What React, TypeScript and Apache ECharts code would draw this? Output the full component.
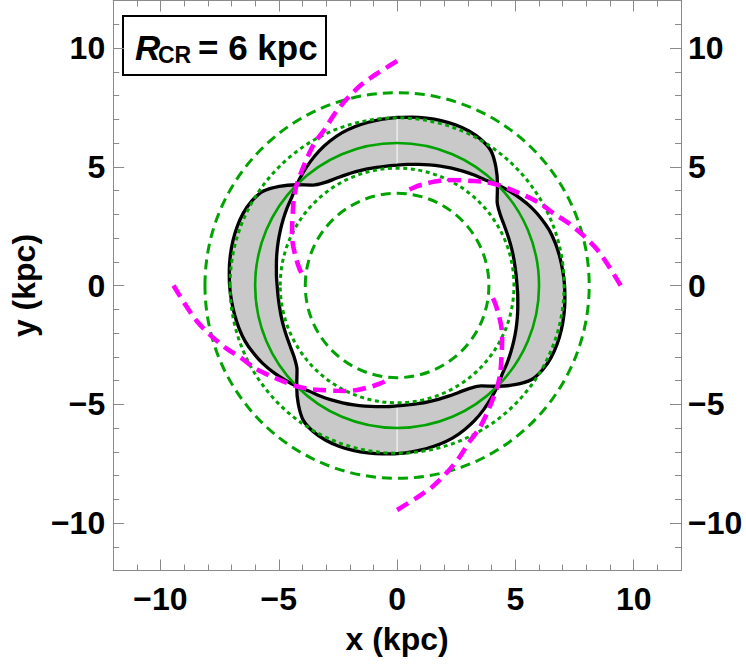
import React, { useEffect, useRef } from "react";
import * as echarts from "echarts";

// Axis range (kpc) and labelled ticks
const axisMin = -12;
const axisMax = 12;
const majorTicks = [-10, -5, 0, 5, 10];

// Resonance circles (kpc)
const corotationRadius = 6;
const dashedRadii = [3.88, 8.12];
const dottedRadii = [4.94, 7.06];

// Gray trapping region: four lobes, each running from one pinch angle
// (deg) to the next; radii are given against the angle past the pinch.
const lobePinchAngles = [45, 135, 225, 315];
const lobePhi = [0, 5, 10, 15, 20, 25, 30, 35, 40, 45, 50, 55, 60, 65, 70, 75, 80, 85, 90];
const lobeOuterR = [6.0, 6.5, 6.92, 7.1, 7.18, 7.2, 7.19, 7.16, 7.12, 7.08, 7.03, 6.98, 6.92, 6.84, 6.71, 6.56, 6.38, 6.19, 6.0];
const lobeInnerR = [6.0, 5.8, 5.68, 5.56, 5.45, 5.35, 5.26, 5.18, 5.12, 5.07, 5.05, 5.05, 5.07, 5.1, 5.14, 5.2, 5.3, 5.52, 6.0];

// Spiral arms (magenta): angle offset from the arm's pinch (deg) and radius
const armPinchAngles = [45, 135, 225, 315];
const armOffset = [-45, -40, -35, -30, -25, -20, -15, -10, -5, 0, 5, 10, 15, 20, 25, 30, 35, 41];
const armR = [9.45, 9.0, 8.6, 8.15, 7.7, 7.25, 6.95, 6.6, 6.28, 6.0, 5.7, 5.38, 5.12, 4.9, 4.66, 4.42, 4.2, 3.93];

const fontFamily = '"Liberation Sans", Arial, Helvetica, sans-serif';
const frameColor = "#8a8a8a";
const green = "#00a300";

const toXY = (deg: number, r: number): number[] => {
  const a = (deg * Math.PI) / 180;
  return [r * Math.cos(a), r * Math.sin(a)];
};

const fmt = (v: number) => (v < 0 ? "\u2212" + Math.abs(v) : String(v));

const lobeEdge = (pinch: number, radii: number[]) =>
  lobePhi.map((phi, i) => toXY(pinch + phi, radii[i]));

// The black boundary is two closed curves that swap between outer and
// inner edges at every pinch.
const boundaryCurve = (startWithOuter: boolean) => {
  const pts: number[][] = [];
  lobePinchAngles.forEach((p, k) => {
    const useOuter = (k % 2 === 0) === startWithOuter;
    const radii = useOuter ? lobeOuterR : lobeInnerR;
    for (let i = 0; i < lobePhi.length - 1; i++) pts.push(toXY(p + lobePhi[i], radii[i]));
  });
  // start in the middle of a lobe so the seam of the closed curve is smooth
  const mid = Math.floor(lobePhi.length / 2);
  const rotated = pts.slice(mid).concat(pts.slice(0, mid));
  rotated.push(rotated[0]);
  return rotated;
};

const armPoints = (pinch: number) => armOffset.map((o, i) => toXY(pinch + o, armR[i]));

const labelText = { fontSize: 32, fontWeight: "bold" as const, color: "#000", fontFamily };

const majorAxis = (position: string, showLabel: boolean, margin: number, extra: any = {}) => ({
  type: "value",
  position,
  min: axisMin,
  max: axisMax,
  axisLine: { show: true, onZero: false, lineStyle: { color: frameColor, width: 1 } },
  axisTick: { show: true, inside: true, length: 11, customValues: majorTicks, lineStyle: { color: frameColor, width: 1 } },
  axisLabel: { show: showLabel, customValues: majorTicks, formatter: fmt, margin, ...labelText },
  splitLine: { show: false },
  ...extra,
});

const minorAxis = (position: string, step: number) => ({
  type: "value",
  position,
  min: axisMin,
  max: axisMax,
  interval: step,
  axisLine: { show: false, onZero: false },
  axisTick: { show: true, inside: true, length: 6, lineStyle: { color: frameColor, width: 1 } },
  axisLabel: { show: false },
  splitLine: { show: false },
});

const App: React.FC = () => {
  const ref = useRef<HTMLDivElement>(null);

  useEffect(() => {
    document.body.style.margin = "0";
    if (!ref.current) return;
    const chart = echarts.init(ref.current, undefined, { renderer: "svg" });

    const circleData = [
      [corotationRadius, 0],
      ...dashedRadii.map((r) => [r, 1]),
      ...dottedRadii.map((r) => [r, 2]),
    ];

    const seamIndex = lobePhi.indexOf(45);
    const seamTop = [toXY(90, lobeInnerR[seamIndex]), toXY(90, lobeOuterR[seamIndex])];
    const seamBottom = [toXY(270, lobeInnerR[seamIndex]), toXY(270, lobeOuterR[seamIndex])];

    const option: any = {
      animation: false,
      backgroundColor: "#fff",
      grid: { left: 110, top: 0.5, width: 571, height: 570, containLabel: false },
      xAxis: [
        majorAxis("bottom", true, 12, {
          name: "x (kpc)",
          nameLocation: "middle",
          nameGap: 52,
          nameTextStyle: { fontSize: 32, fontWeight: "bold", color: "#000", fontFamily },
        }),
        minorAxis("bottom", 1),
        majorAxis("top", false, 8),
        minorAxis("top", 1),
      ],
      yAxis: [
        majorAxis("left", true, 8, {
          name: "y (kpc)",
          nameLocation: "middle",
          nameGap: 62,
          nameTextStyle: { fontSize: 32, fontWeight: "bold", color: "#000", fontFamily },
        }),
        minorAxis("left", 1),
        majorAxis("right", true, 7),
        minorAxis("right", 1),
      ],
      series: [
        {
          type: "custom",
          name: "lobes",
          coordinateSystem: "cartesian2d",
          xAxisIndex: 0,
          yAxisIndex: 0,
          silent: true,
          z: 1,
          data: lobePinchAngles.map((a) => [a, 0]),
          renderItem: (params: any, api: any) => {
            const p = lobePinchAngles[params.dataIndex];
            const outer = lobeEdge(p, lobeOuterR);
            const inner = lobeEdge(p, lobeInnerR).reverse();
            const pts = outer.concat(inner).map((pt) => api.coord(pt));
            return { type: "polygon", shape: { points: pts }, style: { fill: "#c9c9c9", stroke: "none" } };
          },
        },
        ...[seamTop, seamBottom].map((seg) => ({
          type: "line",
          name: "seam",
          data: seg,
          showSymbol: false,
          silent: true,
          z: 2,
          lineStyle: { color: "#fff", width: 1 },
        })),
        ...[true, false].map((startOuter) => ({
          type: "line",
          name: "boundary",
          data: boundaryCurve(startOuter),
          showSymbol: false,
          smooth: 0.3,
          silent: true,
          z: 3,
          lineStyle: { color: "#000", width: 3.3 },
        })),
        {
          type: "custom",
          name: "resonances",
          coordinateSystem: "cartesian2d",
          xAxisIndex: 0,
          yAxisIndex: 0,
          silent: true,
          z: 4,
          data: circleData,
          renderItem: (params: any, api: any) => {
            const r = api.value(0);
            const kind = api.value(1);
            const c = api.coord([0, 0]);
            const e = api.coord([r, r]);
            const style: any = { fill: "none", stroke: green, lineWidth: 3 };
            if (kind === 0) style.lineWidth = 2.6;
            if (kind === 1) style.lineDash = [10, 6];
            if (kind === 2) style.lineDash = [4, 3.6];
            return {
              type: "ellipse",
              shape: { cx: c[0], cy: c[1], rx: e[0] - c[0], ry: c[1] - e[1] },
              style,
            };
          },
        },
        ...armPinchAngles.map((p) => ({
          type: "line",
          name: "arm",
          data: armPoints(p),
          showSymbol: false,
          smooth: 0.3,
          silent: true,
          z: 5,
          lineStyle: { color: "#ff00ff", width: 4.6, type: [13, 7] },
        })),
      ],
      graphic: [
        {
          type: "group",
          z: 100,
          children: [
            {
              type: "rect",
              shape: { x: 123, y: 16, width: 203, height: 59 },
              style: { fill: "#fff", stroke: "#000", lineWidth: 2 },
            },
            {
              type: "text",
              x: 135,
              y: 47,
              style: { text: "R", fill: "#000", fontSize: 35, fontStyle: "italic", fontWeight: "bold", fontFamily, verticalAlign: "middle" },
            },
            {
              type: "text",
              x: 158,
              y: 55,
              style: { text: "CR", fill: "#000", fontSize: 23, fontWeight: "bold", fontFamily, verticalAlign: "middle" },
            },
            {
              type: "text",
              x: 198,
              y: 47,
              style: { text: "= 6 kpc", fill: "#000", fontSize: 35, fontWeight: "bold", fontFamily, verticalAlign: "middle" },
            },
          ],
        },
      ],
    };

    chart.setOption(option);
    return () => chart.dispose();
  }, []);

  return <div ref={ref} style={{ width: 746, height: 665 }} />;
};

export default App;
